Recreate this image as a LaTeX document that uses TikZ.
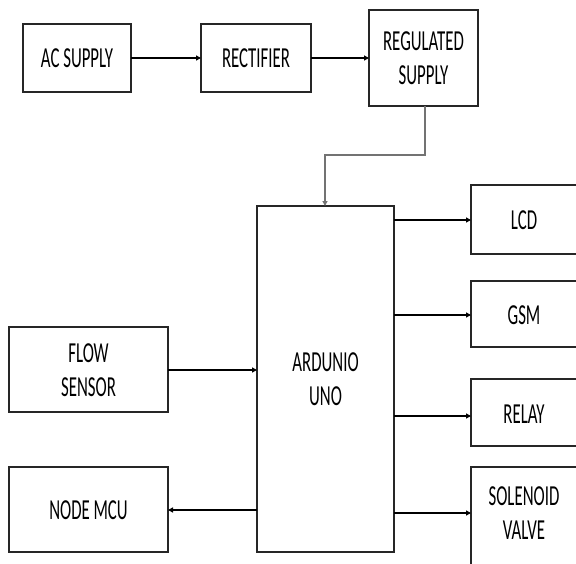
\documentclass[tikz,border=0pt]{standalone}
\usepackage{fontspec}
\setmainfont[FakeStretch=0.58]{Carlito}
\usetikzlibrary{arrows.meta}
\begin{document}
\begin{tikzpicture}[x=1pt,y=-1pt,
  blk/.style={draw=black!85,line width=1.3pt,fill=white},
  txt/.style={align=center,font=\fontsize{29}{34}\selectfont,inner sep=0pt},
  conn/.style={line width=1.4pt,-{Triangle[length=5pt,width=5pt]}}]
\useasboundingbox (0,0) rectangle (576,563);
\clip (0,0) rectangle (576,563);
% boxes
\draw[blk] (23,24) rectangle (131,92);
\node[txt] (ac) at (77,58) {AC SUPPLY};
\draw[blk] (201,24) rectangle (311,92);
\node[txt] (rect) at (256,58) {RECTIFIER};
\draw[blk] (369,10) rectangle (478,106);
\node[txt] (reg) at (423.5,58) {REGULATED\\SUPPLY};
\draw[blk] (257,206) rectangle (394,552);
\node[txt] (ard) at (325.5,379) {ARDUNIO\\UNO};
\draw[blk] (9,327) rectangle (168,412);
\node[txt] (flow) at (88.5,370) {FLOW\\SENSOR};
\draw[blk] (9,467) rectangle (168,552);
\node[txt] (mcu) at (88.5,510) {NODE MCU};
\draw[blk] (471,185) rectangle (600,254);
\node[txt] (lcd) at (524,220) {LCD};
\draw[blk] (471,281) rectangle (600,347);
\node[txt] (gsm) at (524,315) {GSM};
\draw[blk] (471,379) rectangle (600,446);
\node[txt] (relay) at (524,414) {RELAY};
\draw[blk] (471,467) rectangle (600,600);
\node[txt] (sol) at (524,513) {SOLENOID\\VALVE};
% coordinates for connectors
\coordinate (acR) at (131,58);
\coordinate (rectL) at (201,58);
\coordinate (rectR) at (311,58);
\coordinate (regL) at (369,58);
\coordinate (regB) at (425,106);
\coordinate (ardT) at (325,206);
\coordinate (flowR) at (168,370);
\coordinate (ardLf) at (257,370);
\coordinate (ardLm) at (257,510);
\coordinate (mcuR) at (168,510);
\foreach \y/\n in {220/lcd,315/gsm,416/relay,513/sol}{
  \coordinate (ardR\n) at (394,\y);
  \coordinate (in\n) at (471,\y);
  \draw[conn] (ardR\n) -- (in\n);
}
\draw[conn] (acR) -- (rectL);
\draw[conn] (rectR) -- (regL);
\draw[conn,draw=black!55] (regB) |- (325,155) -- (ardT);
\draw[conn] (flowR) -- (ardLf);
\draw[conn] (ardLm) -- (mcuR);
\end{tikzpicture}
\end{document}
